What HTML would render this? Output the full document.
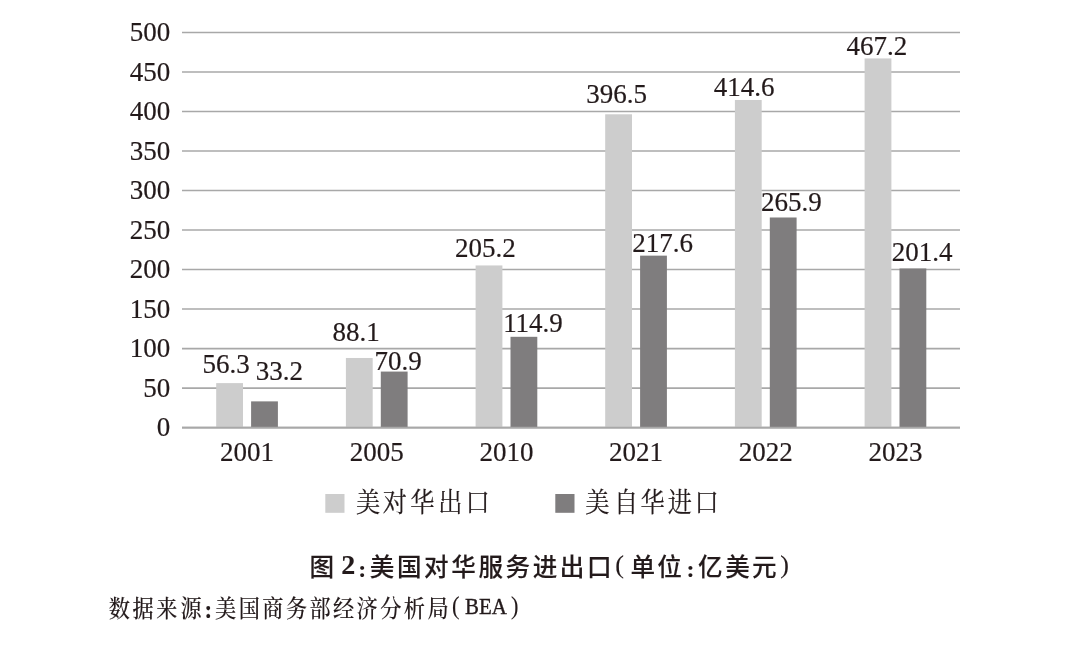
<!DOCTYPE html>
<html lang="zh-CN">
<head>
<meta charset="utf-8">
<title>图 2:美国对华服务进出口</title>
<style>
html,body{margin:0;padding:0;background:#fff;}
body{width:1088px;height:648px;overflow:hidden;}
svg{display:block;}
text{fill:#231a1b;stroke:#231a1b;stroke-width:0.2px;}
svg{filter:blur(0.45px);}
.num{font-family:"Liberation Serif",serif;font-size:27px;}
.song{font-family:"Liberation Serif","Noto Serif CJK SC",serif;font-weight:500;}
.hei{font-family:"Liberation Serif","Noto Sans CJK SC",sans-serif;font-weight:500;stroke-width:0.12px;}
.lat{font-family:"Liberation Serif",serif;}
.latb{font-family:"Liberation Serif",serif;font-weight:700;}
</style>
</head>
<body>
<svg width="1088" height="648" viewBox="0 0 1088 648">
<rect x="0" y="0" width="1088" height="648" fill="#ffffff"/>

<g stroke="#a8a8a8" stroke-width="1.6">
<line x1="182.0" y1="427.60" x2="960.0" y2="427.60"/>
<line x1="182.0" y1="388.09" x2="960.0" y2="388.09"/>
<line x1="182.0" y1="348.58" x2="960.0" y2="348.58"/>
<line x1="182.0" y1="309.07" x2="960.0" y2="309.07"/>
<line x1="182.0" y1="269.56" x2="960.0" y2="269.56"/>
<line x1="182.0" y1="230.05" x2="960.0" y2="230.05"/>
<line x1="182.0" y1="190.54" x2="960.0" y2="190.54"/>
<line x1="182.0" y1="151.03" x2="960.0" y2="151.03"/>
<line x1="182.0" y1="111.52" x2="960.0" y2="111.52"/>
<line x1="182.0" y1="72.01" x2="960.0" y2="72.01"/>
<line x1="182.0" y1="32.50" x2="960.0" y2="32.50"/>
</g>
<g class="num" text-anchor="end">
<text x="170.3" y="436.20">0</text>
<text x="170.3" y="396.69">50</text>
<text x="170.3" y="357.18">100</text>
<text x="170.3" y="317.67">150</text>
<text x="170.3" y="278.16">200</text>
<text x="170.3" y="238.65">250</text>
<text x="170.3" y="199.14">300</text>
<text x="170.3" y="159.63">350</text>
<text x="170.3" y="120.12">400</text>
<text x="170.3" y="80.61">450</text>
<text x="170.3" y="41.10">500</text>
</g>
<g>
<rect x="216.2" y="383.11" width="26.8" height="44.49" fill="#cdcdcd"/>
<rect x="251.1" y="401.37" width="26.8" height="26.23" fill="#7f7d7e"/>
<rect x="345.9" y="357.98" width="26.8" height="69.62" fill="#cdcdcd"/>
<rect x="380.8" y="371.57" width="26.8" height="56.03" fill="#7f7d7e"/>
<rect x="475.6" y="265.45" width="26.8" height="162.15" fill="#cdcdcd"/>
<rect x="510.5" y="336.81" width="26.8" height="90.79" fill="#7f7d7e"/>
<rect x="605.2" y="114.29" width="26.8" height="313.31" fill="#cdcdcd"/>
<rect x="640.1" y="255.65" width="26.8" height="171.95" fill="#7f7d7e"/>
<rect x="734.9" y="99.98" width="26.8" height="327.62" fill="#cdcdcd"/>
<rect x="769.8" y="217.49" width="26.8" height="210.11" fill="#7f7d7e"/>
<rect x="864.6" y="58.42" width="26.8" height="369.18" fill="#cdcdcd"/>
<rect x="899.5" y="268.45" width="26.8" height="159.15" fill="#7f7d7e"/>
</g>
<line x1="182.0" y1="427.60" x2="960.0" y2="427.60" stroke="#a8a8a8" stroke-width="1.6"/>
<g class="num" text-anchor="middle">
<text x="247.1" y="460.7">2001</text>
<text x="376.8" y="460.7">2005</text>
<text x="506.5" y="460.7">2010</text>
<text x="636.1" y="460.7">2021</text>
<text x="765.8" y="460.7">2022</text>
<text x="895.5" y="460.7">2023</text>
</g>
<g class="num" text-anchor="middle">
<text x="226.0" y="372.8">56.3</text>
<text x="279.4" y="380.4">33.2</text>
<text x="356.1" y="341.0">88.1</text>
<text x="398.1" y="370.1">70.9</text>
<text x="485.4" y="257.0">205.2</text>
<text x="533.0" y="332.0">114.9</text>
<text x="616.5" y="103.1">396.5</text>
<text x="662.6" y="252.2">217.6</text>
<text x="744.2" y="95.7">414.6</text>
<text x="791.3" y="211.1">265.9</text>
<text x="876.8" y="54.8">467.2</text>
<text x="922.0" y="260.6">201.4</text>
</g>
<rect x="325.3" y="494" width="19.2" height="18.8" fill="#cdcdcd"/>
<rect x="555.3" y="494" width="19.2" height="18.8" fill="#7f7d7e"/>
<g font-size="24.2" text-anchor="middle" transform="translate(0,512.05) scale(1,1.110)">
<text class="song" style="font-weight:400" y="0" x="368.1 394.8 422.4 450.3 477.5">美对华出口</text>
<text class="song" style="font-weight:400" y="0" x="597.4 626.0 652.5 679.8 706.7">美自华进口</text>
</g>
<text class="hei" font-size="24.6" text-anchor="middle" y="575.7"><tspan x="321.7">图</tspan><tspan class="latb" text-anchor="start" x="335" y="574" font-size="28"> </tspan><tspan class="latb" text-anchor="start" x="341.3" y="574" font-size="28">2</tspan><tspan class="latb" text-anchor="start" x="358.2" y="576.7" font-size="24">:</tspan><tspan y="575.7" x="382.1 409.2 436.4 463.6 490.7 517.9 545.0 572.1 599.3">美国对华服务进出口</tspan><tspan class="lat" text-anchor="start" x="615.3" y="572.65" font-size="26.1">(</tspan><tspan y="575.7" x="642.8 669.6">单位</tspan><tspan class="latb" text-anchor="start" x="686.5" y="576.7" font-size="24">:</tspan><tspan y="575.7" x="710.3 737.6 764.4">亿美元</tspan><tspan class="lat" text-anchor="start" x="780.3" y="572.65" font-size="26.1">)</tspan></text>
<text class="song" style="stroke-width:0.1px" font-size="21.2" text-anchor="middle" transform="translate(0,616.80) scale(1,1.110)" y="0"><tspan y="0" x="119.3 143.1 166.9 191.0">数据来源</tspan><tspan class="latb" text-anchor="start" x="204.6" y="0.90" font-size="23">:</tspan><tspan y="0" x="225.7 249.3 272.9 296.5 320.1 343.6 367.2 390.8 414.4 438.0">美国商务部经济分析局</tspan><tspan class="lat" style="font-weight:400" text-anchor="start" x="452.0" y="-2.88" font-size="22.4">(</tspan><tspan class="lat" style="font-weight:400;stroke-width:0.35px" text-anchor="start" x="465.1" y="-2.12" font-size="20.9">BEA</tspan><tspan class="lat" style="font-weight:400" text-anchor="start" x="510.9" y="-2.88" font-size="22.4">)</tspan></text>
</svg>
</body>
</html>
